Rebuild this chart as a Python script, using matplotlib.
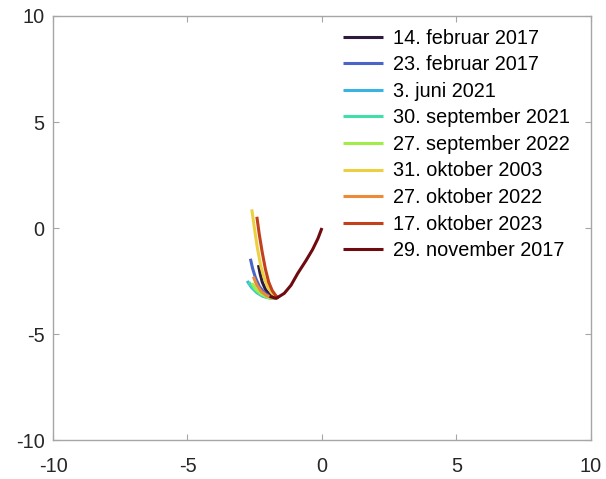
import numpy as np
import matplotlib
matplotlib.use('Agg')
from matplotlib import pyplot as plt

# track curves, one per date (x, y pairs)
labels = ['14. februar 2017', '23. februar 2017', '3. juni 2021',
          '30. september 2021', '27. september 2022', '31. oktober 2003',
          '27. oktober 2022', '17. oktober 2023', '29. november 2017']

x_feb14 = [-2.36, -2.30, -2.22, -2.10, -1.95, -1.75]
y_feb14 = [-1.75, -2.15, -2.55, -2.90, -3.15, -3.30]

x_feb23 = [-2.66, -2.58, -2.47, -2.33, -2.15, -1.95, -1.75]
y_feb23 = [-1.45, -1.90, -2.35, -2.75, -3.05, -3.22, -3.30]

x_jun03 = [-2.78, -2.62, -2.42, -2.20, -1.95, -1.75]
y_jun03 = [-2.50, -2.80, -3.05, -3.22, -3.30, -3.32]

x_sep30 = [-2.72, -2.55, -2.35, -2.10, -1.85]
y_sep30 = [-2.55, -2.85, -3.08, -3.25, -3.32]

x_sep27 = [-2.60, -2.45, -2.25, -2.00, -1.80]
y_sep27 = [-2.60, -2.90, -3.12, -3.27, -3.32]

x_okt31 = [-2.61, -2.50, -2.40, -2.27, -2.15, -2.02, -1.85, -1.65]
y_okt31 = [0.88, -0.10, -0.95, -1.82, -2.35, -2.77, -3.08, -3.27]

x_okt27 = [-2.55, -2.42, -2.25, -2.05, -1.80]
y_okt27 = [-2.30, -2.70, -3.00, -3.20, -3.30]

x_okt17 = [-2.42, -2.33, -2.22, -2.10, -1.98, -1.85, -1.70, -1.60]
y_okt17 = [0.53, -0.30, -1.15, -1.95, -2.55, -2.95, -3.22, -3.30]

x_nov29 = [-1.95, -1.70, -1.40, -1.15, -0.90, -0.60, -0.35, -0.15, 0.0]
y_nov29 = [-3.22, -3.32, -3.08, -2.70, -2.14, -1.55, -1.02, -0.50, 0.0]

xs = [x_feb14, x_feb23, x_jun03, x_sep30, x_sep27, x_okt31, x_okt27, x_okt17, x_nov29]
ys = [y_feb14, y_feb23, y_jun03, y_sep30, y_sep27, y_okt31, y_okt27, y_okt17, y_nov29]

colors = ['#2d1a3e', '#4a64c8', '#3ab2e2', '#3ee0a8', '#a2ec4a',
          '#ecd040', '#ec8a38', '#c2401c', '#6e0a10']

plt.rc('font', size=14.3, family=['Liberation Sans', 'DejaVu Sans'])
plt.rc('axes', unicode_minus=False)
fig = plt.figure(figsize=[6.06, 4.79], dpi=100)
ax = fig.add_axes([0.0875, 0.0814, 0.8875, 0.8852])

for x, y, c, lab in zip(xs, ys, colors, labels):
    ax.plot(x, y, color=c, linewidth=2.2, label=lab, solid_capstyle='butt')

ax.set_xlim(-10, 10)
ax.set_ylim(-10, 10)
ax.set_xticks([-10, -5, 0, 5, 10])
ax.set_yticks([-10, -5, 0, 5, 10])
for s in ax.spines.values():
    s.set_color('#a6a6a6')
    s.set_linewidth(1.0)
ax.tick_params(direction='in', length=4, width=0.8, color='#a6a6a6',
               labelcolor='#262626', top=True, right=True, pad=6)
ax.tick_params(axis='x', pad=12)

ax.legend(loc='upper left', bbox_to_anchor=(0.566, 0.94),
          bbox_transform=fig.transFigure, frameon=False, borderpad=0,
          handlelength=2.0, handletextpad=0.5, labelspacing=0.38,
          borderaxespad=0)

fig.savefig('out.png', dpi=100)
